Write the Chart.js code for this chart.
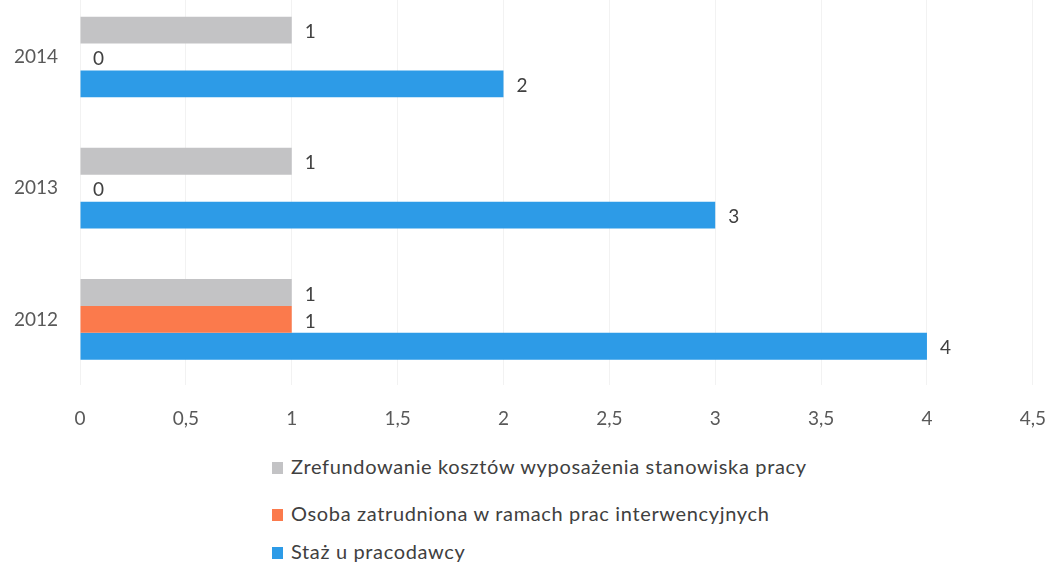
<!DOCTYPE html>
<html>
<head>
<meta charset="utf-8">
<script src="https://cdn.jsdelivr.net/npm/chart.js@4.4.1/dist/chart.umd.min.js"></script>
<style>
  html, body { margin: 0; padding: 0; background: #ffffff; width: 1050px; height: 566px; overflow: hidden; position: relative; }
  #wrap { position: absolute; left: 0; top: -42px; width: 1068px; height: 482px; }
  .leg { position: absolute; left: 272px; font-family: Lato, "Liberation Sans", sans-serif; font-size: 20px; letter-spacing: 0.65px; color: #404040; white-space: nowrap; line-height: 22px; }
  .leg span.box { display: inline-block; width: 11px; height: 12px; margin-right: 8px; vertical-align: 0px; }
</style>
</head>
<body>
<div id="wrap"><canvas id="c" width="1068" height="482"></canvas></div>
<div id="legend"></div>
<script>
const categories = ['2014', '2013', '2012'];
const seriesNames = [
  'Zrefundowanie kosztów wyposażenia stanowiska pracy',
  'Osoba zatrudniona w ramach prac interwencyjnych',
  'Staż u pracodawcy'
];
const refundValues = [1, 1, 1];
const interventionValues = [0, 0, 1];
const internshipValues = [2, 3, 4];
const xTicks = [0, 0.5, 1, 1.5, 2, 2.5, 3, 3.5, 4, 4.5];
const seriesColors = ['#c3c3c5', '#fb7a4c', '#2d9be7'];

const legendTops = [455, 502, 540];
const legendEl = document.getElementById('legend');
seriesNames.forEach((name, i) => {
  const d = document.createElement('div');
  d.className = 'leg';
  d.style.top = legendTops[i] + 'px';
  const b = document.createElement('span');
  b.className = 'box';
  b.style.background = seriesColors[i];
  d.appendChild(b);
  d.appendChild(document.createTextNode(name));
  legendEl.appendChild(d);
});

const valueLabels = {
  id: 'valueLabels',
  afterDatasetsDraw(chart) {
    const ctx = chart.ctx;
    ctx.save();
    ctx.font = '19px Lato, "Liberation Sans", sans-serif';
    ctx.fillStyle = '#404040';
    ctx.textAlign = 'left';
    ctx.textBaseline = 'middle';
    chart.data.datasets.forEach((ds, di) => {
      const meta = chart.getDatasetMeta(di);
      meta.data.forEach((bar, i) => {
        ctx.fillText(String(ds.data[i]), bar.x + 13, bar.y + 2);
      });
    });
    ctx.restore();
  }
};

new Chart(document.getElementById('c'), {
  type: 'bar',
  data: {
    labels: categories,
    datasets: [
      { label: seriesNames[0], data: refundValues, backgroundColor: seriesColors[0] },
      { label: seriesNames[1], data: interventionValues, backgroundColor: seriesColors[1] },
      { label: seriesNames[2], data: internshipValues, backgroundColor: seriesColors[2] }
    ]
  },
  options: {
    indexAxis: 'y',
    responsive: false,
    animation: false,
    layout: { padding: { left: 0, right: 0, top: 0, bottom: 0 } },
    datasets: { bar: { categoryPercentage: 0.615, barPercentage: 1.0 } },
    plugins: { legend: { display: false }, tooltip: { enabled: false } },
    scales: {
      x: {
        min: 0, max: 4.5,
        afterBuildTicks(scale) { scale.ticks = xTicks.map(v => ({ value: v })); },
        afterFit(scale) { scale.height = 55; },
        grid: { color: '#f2f2f2', drawTicks: false },
        border: { display: false },
        ticks: {
          padding: 22,
          color: '#595959',
          font: { family: 'Lato, "Liberation Sans", sans-serif', size: 19 },
          callback: v => String(v).replace('.', ','),
          maxRotation: 0
        }
      },
      y: {
        afterFit(scale) { scale.width = 80; },
        grid: { display: false, drawTicks: false },
        border: { display: false },
        ticks: {
          padding: 22,
          color: '#595959',
          font: { family: 'Lato, "Liberation Sans", sans-serif', size: 19 }
        }
      }
    }
  },
  plugins: [valueLabels]
});
</script>
</body>
</html>
